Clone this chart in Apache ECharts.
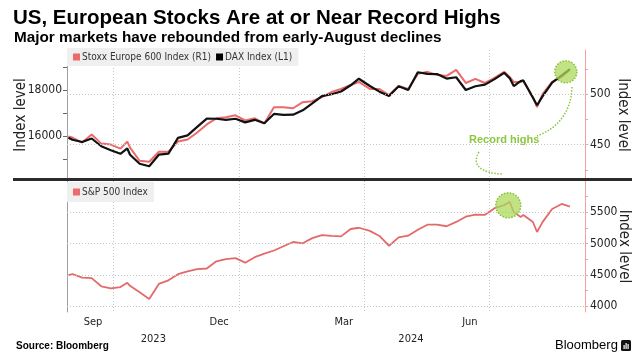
<!DOCTYPE html>
<html><head><meta charset="utf-8">
<script src="https://cdn.jsdelivr.net/npm/echarts@6/dist/echarts.min.js"></script>
<style>html,body{margin:0;padding:0;background:#fff}#c{width:640px;height:359px}</style>
</head><body><div id="c"></div>
<script>
// ---- data ----
const dates = ['2023-08-29','2023-09-01','2023-09-08','2023-09-15','2023-09-22','2023-09-29','2023-10-06','2023-10-11','2023-10-13','2023-10-20','2023-10-27','2023-11-03','2023-11-10','2023-11-17','2023-11-24','2023-12-01','2023-12-08','2023-12-15','2023-12-22','2023-12-29','2024-01-05','2024-01-12','2024-01-19','2024-01-26','2024-02-02','2024-02-09','2024-02-16','2024-02-23','2024-03-01','2024-03-08','2024-03-15','2024-03-22','2024-03-28','2024-04-05','2024-04-12','2024-04-19','2024-04-26','2024-05-03','2024-05-10','2024-05-17','2024-05-24','2024-05-31','2024-06-07','2024-06-14','2024-06-21','2024-06-28','2024-07-05','2024-07-12','2024-07-16','2024-07-19','2024-07-24','2024-07-26','2024-08-02','2024-08-05','2024-08-09','2024-08-16','2024-08-23','2024-08-29'];
const stoxx = [458,457,452,460,451,450,446,453,447,434,433,443,443,453,455,462,470,476,477,479,474,476,471,487,487,486,492,493,497,502,505,509,512,505,505,499,508,505,520,522,519,518,524,511,515,511,516,522,517,512,512,513,497,487,500,512,517,524];
const dax = [15930,15840,15740,15894,15557,15387,15229,15460,15187,14798,14687,15189,15234,15919,16029,16397,16759,16751,16706,16752,16594,16705,16555,16961,16918,16927,17117,17419,17735,17815,17936,18206,18492,18175,17930,17737,18161,18001,18773,18704,18693,18498,18557,18002,18164,18235,18475,18748,18518,18172,18387,18417,17661,17339,17722,18322,18633,18912];
const spx = [4497,4516,4457,4450,4320,4288,4308,4376,4327,4224,4117,4358,4415,4514,4559,4595,4604,4719,4755,4770,4697,4784,4840,4891,4959,5027,5006,5089,5137,5124,5117,5234,5254,5204,5123,4967,5100,5128,5223,5303,5305,5278,5347,5431,5465,5460,5567,5615,5667,5505,5427,5459,5346,5186,5344,5554,5634,5592];

const quarterStarts = ['2023-10-01','2024-01-01','2024-04-01','2024-07-01'];
const monthLabelDates = ['2023-09-16','2023-12-17','2024-03-17','2024-06-17'];
const yearLabelDates = ['2023-10-30','2024-05-05'];
const daxTicks = [15000,16000,17000,18000,19000];
const daxLabels = [16000,18000];
const stoxxTicks = [425,450,475,500,525];
const stoxxLabels = [450,500];
const spxTicks = [4000,4250,4500,4750,5000,5250,5500,5750];
const spxLabels = [4000,4500,5000,5500];
const stoxxHighMark = ['2024-08-26', 522];
const spxHighMark = ['2024-07-15', 5612];

const ts = d => Date.UTC(+d.slice(0, 4), +d.slice(5, 7) - 1, +d.slice(8, 10));
const X_MIN = ts('2023-08-28'), X_MAX = ts('2024-09-09');
const months = ['Jan','Feb','Mar','Apr','May','Jun','Jul','Aug','Sep','Oct','Nov','Dec'];
const FONT = '"DejaVu Sans Condensed", "Liberation Sans", sans-serif';
const TXT = '#222';
const RED_AXIS = '#f2a2a2';
const GRID_LINE = {type: [1, 2], color: '#c4c4c4', width: 1};
const plain = v => String(v);

const zip = arr => dates.map((d, i) => [ts(d), arr[i]]);

const chart = echarts.init(document.getElementById('c'), null, {renderer: 'canvas'});

function dayAxis(gridIndex, extra) {
  return Object.assign({
    type: 'value', gridIndex, min: X_MIN, max: X_MAX,
    axisLine: {show: false},
    axisTick: {show: false, customValues: quarterStarts.map(ts)},
    axisLabel: {show: false},
    splitLine: {show: true, lineStyle: GRID_LINE}
  }, extra || {});
}

const option = {
  animation: false,
  backgroundColor: '#fff',
  textStyle: {fontFamily: FONT},
  title: [
    {text: 'US, European Stocks Are at or Near Record Highs', left: 13, top: 8, padding: 0,
     textStyle: {fontFamily: '"Liberation Sans", sans-serif', fontWeight: 'bold', fontSize: 20.5, color: '#000'}},
    {text: 'Major markets have rebounded from early-August declines', left: 14, top: 30, padding: 0,
     textStyle: {fontFamily: '"Liberation Sans", sans-serif', fontWeight: 'bold', fontSize: 15.3, color: '#000'}},
    {text: 'Source: Bloomberg', left: 16, top: 341, padding: 0,
     textStyle: {fontFamily: '"Liberation Sans", sans-serif', fontWeight: 'bold', fontSize: 10, color: '#000'}},
    {text: 'Bloomberg', left: 555, top: 339, padding: 0,
     textStyle: {fontFamily: '"Liberation Sans", sans-serif', fontWeight: 'normal', fontSize: 13, color: '#000'}}
  ],
  legend: [
    {data: ['Stoxx Europe 600 Index (R1)', 'DAX Index (L1)'], left: 67, top: 48,
     backgroundColor: '#efefef', padding: [4, 6, 4, 6], icon: 'rect', itemWidth: 7, itemHeight: 7, itemGap: 5,
     textStyle: {fontSize: 10, color: '#333', padding: [0, 0, 0, -3]}},
    {data: ['S&P 500 Index'], left: 67, top: 182,
     backgroundColor: '#efefef', padding: [5, 6, 5, 6], icon: 'rect', itemWidth: 7, itemHeight: 7,
     textStyle: {fontSize: 10, color: '#333', padding: [0, 0, 0, -3]}}
  ],
  grid: [
    {left: 67, right: 55, top: 50, height: 130, containLabel: false, outerBoundsMode: 'none'},
    {left: 67, right: 55, top: 181, height: 131, containLabel: false, outerBoundsMode: 'none'}
  ],
  xAxis: [
    dayAxis(0),
    dayAxis(1, {
      axisLabel: {show: true, customValues: monthLabelDates.map(ts), color: TXT, fontSize: 11, margin: 5,
                  formatter: v => months[new Date(v).getUTCMonth()]}
    }),
    {type: 'value', gridIndex: 1, min: X_MIN, max: X_MAX, position: 'bottom',
     axisLine: {show: false}, axisTick: {show: false}, splitLine: {show: false},
     axisLabel: {show: true, customValues: yearLabelDates.map(ts), color: TXT, fontSize: 11, margin: 22,
                 formatter: v => String(new Date(v).getUTCFullYear())}}
  ],
  yAxis: [
    {type: 'value', gridIndex: 0, position: 'left', min: 14090, max: 19740,
     axisLine: {show: true, lineStyle: {color: '#a0a0a0'}},
     axisTick: {show: true, customValues: daxTicks, length: 4, lineStyle: {color: '#666'}},
     axisLabel: {customValues: daxLabels, color: TXT, fontSize: 12, margin: 5, formatter: plain},
     splitLine: {show: false},
     name: 'Index level', nameLocation: 'middle', nameGap: 38, nameRotate: 90, nameMoveOverlap: false,
     nameTextStyle: {fontSize: 15, color: TXT}},
    {type: 'value', gridIndex: 0, position: 'right', min: 415, max: 543.6,
     axisLine: {show: true, lineStyle: {color: RED_AXIS}},
     axisTick: {show: true, customValues: stoxxTicks, length: 3, lineStyle: {color: RED_AXIS}},
     axisLabel: {customValues: stoxxLabels, color: TXT, fontSize: 12, margin: 5, formatter: plain},
     splitLine: {show: false},
     name: 'Index level', nameLocation: 'middle', nameGap: 30, nameRotate: -90, nameMoveOverlap: false,
     nameTextStyle: {fontSize: 15, color: TXT}},
    {type: 'value', gridIndex: 1, position: 'right', min: 3910, max: 6000,
     axisLine: {show: true, lineStyle: {color: RED_AXIS}},
     axisTick: {show: true, customValues: spxTicks, length: 3, lineStyle: {color: RED_AXIS}},
     axisLabel: {customValues: spxLabels, color: TXT, fontSize: 12, margin: 5, formatter: plain},
     splitLine: {show: false},
     name: 'Index level', nameLocation: 'middle', nameGap: 31, nameRotate: -90, nameMoveOverlap: false,
     nameTextStyle: {fontSize: 15, color: TXT}},
    {type: 'value', gridIndex: 1, position: 'left', min: 0, max: 1,
     axisLine: {show: true, lineStyle: {color: '#a0a0a0'}},
     axisTick: {show: false}, axisLabel: {show: false}, splitLine: {show: false}}
  ],
  series: [
    {name: 'Stoxx Europe 600 Index (R1)', type: 'line', xAxisIndex: 0, yAxisIndex: 1,
     data: zip(stoxx), showSymbol: false, color: '#ec6a6a', lineStyle: {width: 2, color: '#ec6a6a'},
     markLine: {silent: true, symbol: 'none', label: {show: false}, lineStyle: GRID_LINE,
                data: stoxxLabels.map(v => ({yAxis: v}))},
     markPoint: {silent: true, symbol: 'circle', symbolSize: 22, label: {show: false},
                 itemStyle: {color: 'rgba(172,218,92,0.75)', borderColor: '#86c03a', borderWidth: 1.5, borderType: [1.5, 1.5]},
                 data: [{coord: [ts(stoxxHighMark[0]), stoxxHighMark[1]]}]}},
    {name: 'DAX Index (L1)', type: 'line', xAxisIndex: 0, yAxisIndex: 0,
     data: zip(dax), showSymbol: false, color: '#000', lineStyle: {width: 2.2, color: '#111'}},
    {name: 'S&P 500 Index', type: 'line', xAxisIndex: 1, yAxisIndex: 2,
     data: zip(spx), showSymbol: false, color: '#ec6a6a', lineStyle: {width: 1.8, color: '#e46a6a'},
     markLine: {silent: true, symbol: 'none', label: {show: false}, lineStyle: GRID_LINE,
                data: spxLabels.map(v => ({yAxis: v}))},
     markPoint: {silent: true, symbol: 'circle', symbolSize: 25, label: {show: false},
                 itemStyle: {color: 'rgba(172,218,92,0.75)', borderColor: '#86c03a', borderWidth: 1.5, borderType: [1.5, 1.5]},
                 data: [{coord: [ts(spxHighMark[0]), spxHighMark[1]]}]}}
  ],
  graphic: [
    {type: 'line', shape: {x1: 13, y1: 179.5, x2: 632, y2: 179.5}, style: {stroke: '#2b2b2b', lineWidth: 3}, z: 100},
    {type: 'text', left: 469, top: 134, style: {text: 'Record highs', fill: '#8cc63f', font: 'bold 11px "Liberation Sans", sans-serif'}, z: 100},
    {type: 'bezierCurve', shape: {x1: 572, y1: 87, cpx1: 571, cpy1: 114, cpx2: 556, cpy2: 129, x2: 537, y2: 136},
     style: {stroke: '#8cc63f', lineWidth: 1.5, lineDash: [1.5, 1.5], fill: null}, z: 100},
    {type: 'bezierCurve', shape: {x1: 479, y1: 152, cpx1: 471, cpy1: 165, cpx2: 481, cpy2: 173, x2: 502, y2: 174},
     style: {stroke: '#8cc63f', lineWidth: 1.5, lineDash: [1.5, 1.5], fill: null}, z: 100},
    {type: 'rect', shape: {x: 621, y: 340, width: 10, height: 11, r: 1.5}, style: {fill: '#111'}, z: 100},
    {type: 'rect', shape: {x: 623.5, y: 345, width: 1.2, height: 4}, style: {fill: '#fff'}, z: 101},
    {type: 'rect', shape: {x: 625.5, y: 343, width: 1.2, height: 6}, style: {fill: '#fff'}, z: 101},
    {type: 'rect', shape: {x: 627.5, y: 344, width: 1.2, height: 5}, style: {fill: '#fff'}, z: 101}
  ]
};
chart.setOption(option);
</script>
</body></html>
